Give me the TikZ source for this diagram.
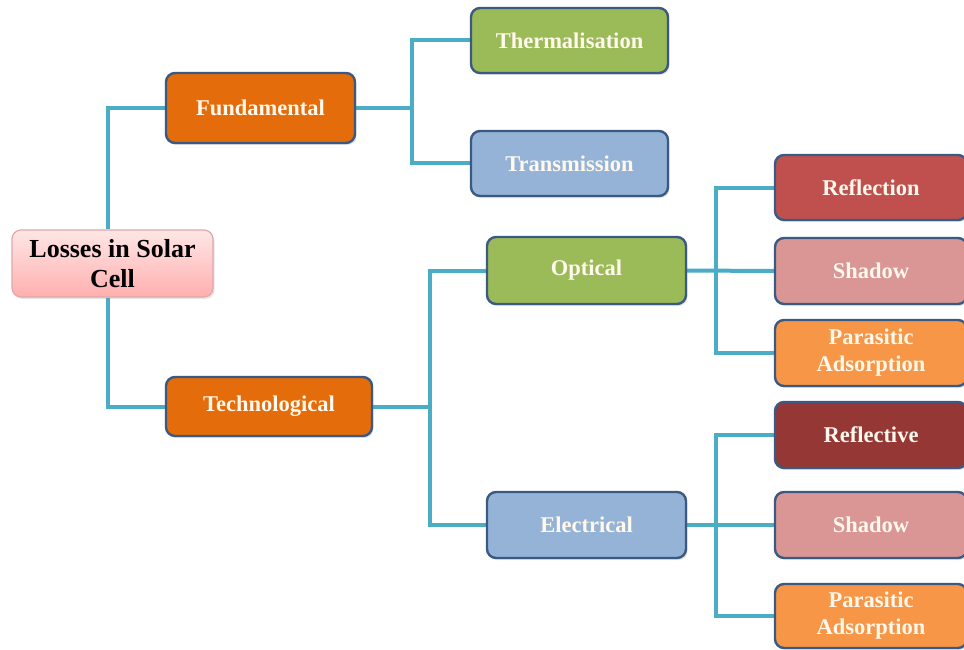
\documentclass[tikz,border=0pt]{standalone}
\usepackage{fontspec}
\setmainfont{Liberation Serif}
\usetikzlibrary{shadows}
\definecolor{cOrange}{HTML}{E46C0A}
\definecolor{cGreen}{HTML}{9BBB59}
\definecolor{cBlue}{HTML}{95B3D7}
\definecolor{cRed}{HTML}{C0504D}
\definecolor{cPink}{HTML}{D99694}
\definecolor{cOrangeL}{HTML}{F79646}
\definecolor{cDarkRed}{HTML}{953735}
\definecolor{cBorder}{HTML}{3B5A82}
\definecolor{cTeal}{HTML}{4BACC6}
\definecolor{cText}{HTML}{FFF8EC}
\definecolor{cRootTop}{HTML}{FFE6E6}
\definecolor{cRootBot}{HTML}{FFAFAF}
\definecolor{cRootBorder}{HTML}{E0A8A8}
\pgfdeclarelayer{background}
\pgfsetlayers{background,main}
\tikzset{
  boxnode/.style={draw=cBorder, line width=2.4pt, rounded corners=9pt,
    text=cText, font=\fontsize{22.5}{27}\selectfont\bfseries, align=center,
    inner sep=0pt,
    drop shadow={opacity=0.2, shadow xshift=1.5pt, shadow yshift=-2pt}},
  rootnode/.style={draw=cRootBorder, line width=1.2pt, rounded corners=9pt,
    top color=cRootTop, bottom color=cRootBot, text=black,
    font=\fontsize{26}{30}\selectfont\bfseries, align=center, inner sep=0pt,
    drop shadow={opacity=0.2, shadow xshift=1.5pt, shadow yshift=-2pt}},
  conn/.style={draw=cTeal, line width=4pt},
  sz/.style n args={2}{minimum width=#1pt, minimum height=#2pt}
}
\begin{document}
\begin{tikzpicture}[x=1pt,y=-1pt]
\useasboundingbox (0,0) rectangle (964,650);

\node[rootnode, sz={201}{67}] (root) at (112.5,263.5) {Losses in Solar\\Cell};
\node[boxnode, fill=cOrange, sz={189}{70}] (fund) at (260.5,108) {Fundamental};
\node[boxnode, fill=cOrange, sz={206}{59}] (tech) at (269,406.5) {Technological};
\node[boxnode, fill=cGreen, sz={197}{65}] (therm) at (569.5,40.5) {Thermalisation};
\node[boxnode, fill=cBlue, sz={197}{65}] (trans) at (569.5,163.5) {Transmission};
\node[boxnode, fill=cGreen, sz={199}{67}] (opt) at (586.5,270.5) {Optical};
\node[boxnode, fill=cBlue, sz={199}{66}] (elec) at (586.5,525) {Electrical};
\node[boxnode, fill=cRed, sz={192}{65}] (refl) at (871,187.5) {Reflection};
\node[boxnode, fill=cPink, sz={192}{66}] (shad1) at (871,271) {Shadow};
\node[boxnode, fill=cOrangeL, sz={192}{66}] (para1) at (871,353) {Parasitic\\Adsorption};
\node[boxnode, fill=cDarkRed, sz={192}{66}] (reflv) at (871,435) {Reflective};
\node[boxnode, fill=cPink, sz={192}{66}] (shad2) at (871,525) {Shadow};
\node[boxnode, fill=cOrangeL, sz={192}{64}] (para2) at (871,616) {Parasitic\\Adsorption};

\coordinate (jf) at (412,108);
\coordinate (jt) at (430,406.5);
\coordinate (jo) at (716,270.5);
\coordinate (je) at (716,525);

\begin{pgfonlayer}{background}
\fill[white] (0,0) rectangle (964,650);
\draw[conn] ([xshift=-4.5pt]root.north) |- (fund.west);
\draw[conn] ([xshift=-4.5pt]root.south) |- (tech.west);
\draw[conn] (fund.east) -- (jf);
\draw[conn] (jf) |- (therm.west);
\draw[conn] (jf) |- (trans.west);
\draw[conn] (tech.east) -- (jt);
\draw[conn] (jt) |- (opt.west);
\draw[conn] (jt) |- (elec.west);
\draw[conn] (opt.east) -- (shad1.west);
\draw[conn] (jo) |- (refl.west);
\draw[conn] (jo) |- (para1.west);
\draw[conn] (elec.east) -- (shad2.west);
\draw[conn] (je) |- (reflv.west);
\draw[conn] (je) |- (para2.west);
\end{pgfonlayer}
\end{tikzpicture}
\end{document}
